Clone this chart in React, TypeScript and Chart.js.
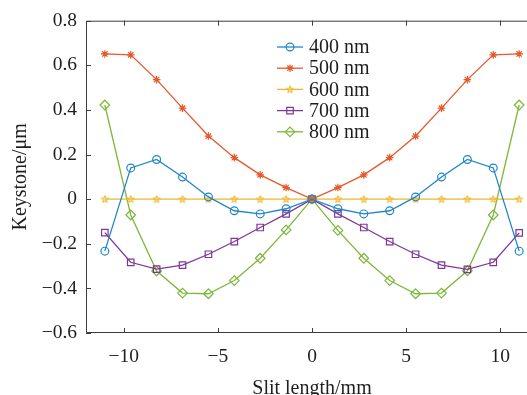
import React, { useEffect, useRef } from 'react';
import { Chart, registerables } from 'chart.js';

Chart.register(...registerables);

const slitPositions = [-11, -9.625, -8.25, -6.875, -5.5, -4.125, -2.75, -1.375, 0, 1.375, 2.75, 4.125, 5.5, 6.875, 8.25, 9.625, 11];
const seriesLabels = ['400 nm', '500 nm', '600 nm', '700 nm', '800 nm'];
const keystone400 = [-0.233, 0.14, 0.178, 0.099, 0.01, -0.052, -0.066, -0.043, 0, -0.043, -0.066, -0.052, 0.01, 0.099, 0.178, 0.14, -0.233];
const keystone500 = [0.651, 0.647, 0.536, 0.408, 0.283, 0.186, 0.109, 0.052, 0, 0.052, 0.109, 0.186, 0.283, 0.408, 0.536, 0.647, 0.651];
const keystone600 = [0, 0, 0, 0, 0, 0, 0, 0, 0, 0, 0, 0, 0, 0, 0, 0, 0];
const keystone700 = [-0.15, -0.283, -0.314, -0.296, -0.247, -0.19, -0.127, -0.066, 0, -0.066, -0.127, -0.19, -0.247, -0.296, -0.315, -0.283, -0.151];
const keystone800 = [0.422, -0.071, -0.322, -0.421, -0.424, -0.365, -0.265, -0.138, 0, -0.14, -0.265, -0.365, -0.424, -0.421, -0.321, -0.071, 0.422];
const xTicks = [-10, -5, 0, 5, 10];
const yTicks = [-0.6, -0.4, -0.2, 0, 0.2, 0.4, 0.6, 0.8];
const seriesColors = ['#1f87c9', '#e8582a', '#efb72c', '#7f3797', '#7cb83a'];

const FONT = "'Liberation Serif', 'Times New Roman', serif";

function makePentagram(color: string): HTMLCanvasElement {
  const c = document.createElement('canvas');
  c.width = 10;
  c.height = 10;
  const g = c.getContext('2d')!;
  const cx = 5, cy = 5.3, ro = 3.8, ri = 1.6;
  g.beginPath();
  for (let i = 0; i < 10; i++) {
    const r = i % 2 === 0 ? ro : ri;
    const a = -Math.PI / 2 + (i * Math.PI) / 5;
    const px = cx + r * Math.cos(a);
    const py = cy + r * Math.sin(a);
    if (i === 0) g.moveTo(px, py); else g.lineTo(px, py);
  }
  g.closePath();
  g.fillStyle = 'rgba(245, 200, 90, 0.5)';
  g.fill();
  g.strokeStyle = color;
  g.lineWidth = 1;
  g.stroke();
  return c;
}

export default function App() {
  const ref = useRef<HTMLCanvasElement | null>(null);

  useEffect(() => {
    if (!ref.current) return;
    const star = makePentagram(seriesColors[2]);
    const values = [keystone400, keystone500, keystone600, keystone700, keystone800];
    const styles: any[] = ['circle', 'star', star, 'rect', 'rectRot'];
    const radii = [3.9, 3.8, 4, 4.6, 4.8];

    const datasets = values.map((vals, i) => ({
      label: seriesLabels[i],
      data: slitPositions.map((x, j) => ({ x, y: vals[j] })),
      borderColor: seriesColors[i],
      backgroundColor: seriesColors[i],
      borderWidth: 1.3,
      pointStyle: styles[i],
      pointRadius: radii[i],
      pointBorderWidth: 1.2,
      pointBorderColor: seriesColors[i],
      pointBackgroundColor: 'rgba(0,0,0,0)',
      tension: 0,
    }));

    const framePlugin = {
      id: 'matlabFrame',
      afterDatasetsDraw(chart: any) {
        const { ctx, chartArea } = chart;
        const { left, right, top, bottom } = chartArea;
        const xs = chart.scales.x;
        const ys = chart.scales.y;
        ctx.save();
        ctx.strokeStyle = '#3c3c3c';
        ctx.lineWidth = 1;
        ctx.beginPath();
        ctx.rect(left + 0.5, top + 0.5, right - left - 1, bottom - top - 1);
        ctx.stroke();
        const tl = 5;
        ctx.beginPath();
        xTicks.forEach((v) => {
          const px = Math.round(xs.getPixelForValue(v)) + 0.5;
          ctx.moveTo(px, bottom);
          ctx.lineTo(px, bottom - tl);
          ctx.moveTo(px, top);
          ctx.lineTo(px, top + tl);
        });
        yTicks.forEach((v) => {
          const py = Math.round(ys.getPixelForValue(v)) + 0.5;
          ctx.moveTo(left, py);
          ctx.lineTo(left + tl, py);
          ctx.moveTo(right, py);
          ctx.lineTo(right - tl, py);
        });
        ctx.stroke();

        // legend (MATLAB style, no box)
        const lx0 = 277, lx1 = 303, tx = 309, ly0 = 47, dy = 21.2;
        chart.data.datasets.forEach((ds: any, i: number) => {
          const yy = ly0 + i * dy;
          ctx.strokeStyle = ds.borderColor;
          ctx.lineWidth = ds.borderWidth;
          ctx.beginPath();
          ctx.moveTo(lx0, yy);
          ctx.lineTo(lx1, yy);
          ctx.stroke();
          const meta = chart.getDatasetMeta(i);
          const el = meta.data[0];
          if (el) {
            const cx = (lx0 + lx1) / 2;
            const ox = el.x, oy = el.y;
            el.x = cx; el.y = yy;
            el.draw(ctx, chart.chartArea);
            el.x = ox; el.y = oy;
          }
          ctx.fillStyle = '#1e1e1e';
          ctx.font = `20px ${FONT}`;
          ctx.textBaseline = 'middle';
          ctx.textAlign = 'left';
          ctx.fillText(ds.label, tx, yy + 1);
        });
        ctx.restore();
      },
    };

    const chart = new Chart(ref.current, {
      type: 'line',
      data: { datasets },
      options: {
        animation: false,
        responsive: false,
        devicePixelRatio: 1,
        layout: { padding: { left: 0, top: 16, right: 22, bottom: 0 } },
        plugins: { legend: { display: false }, tooltip: { enabled: false } },
        scales: {
          x: {
            type: 'linear',
            min: -12,
            max: 12,
            grid: { display: false, drawTicks: false },
            border: { display: false },
            afterBuildTicks: (s: any) => { s.ticks = xTicks.map((v) => ({ value: v })); },
            afterFit: (s: any) => { s.height = 77; },
            ticks: {
              padding: 12,
              color: '#1e1e1e',
              font: { family: FONT, size: 19.5 },
              maxRotation: 0,
              callback: (v: any) => (v < 0 ? '\u2212' + Math.abs(v) : String(v)),
            },
            title: {
              display: true,
              text: 'Slit length/mm',
              color: '#1e1e1e',
              font: { family: FONT, size: 20 },
              padding: { top: 0, bottom: 9 },
            },
          },
          y: {
            type: 'linear',
            min: -0.6,
            max: 0.8,
            grid: { display: false, drawTicks: false },
            border: { display: false },
            afterBuildTicks: (s: any) => { s.ticks = yTicks.map((v) => ({ value: v })); },
            afterFit: (s: any) => { s.width = 86; },
            ticks: {
              padding: 9,
              color: '#1e1e1e',
              font: { family: FONT, size: 19.5 },
              callback: (v: any) => {
                const n = Number(v);
                if (Math.abs(n) < 1e-9) return '0';
                const s = Math.abs(n).toFixed(1);
                return n < 0 ? '\u2212' + s : s;
              },
            },
            title: {
              display: true,
              text: 'Keystone/\u03bcm',
              color: '#1e1e1e',
              font: { family: FONT, size: 20 },
              padding: { top: 9, bottom: 0 },
            },
          },
        },
      },
      plugins: [framePlugin],
    });
    return () => chart.destroy();
  }, []);

  return (
    <div style={{ position: 'fixed', left: 0, top: 0, width: 527, height: 395, overflow: 'hidden', background: '#fff' }}>
      <canvas ref={ref} width={560} height={410} style={{ width: 560, height: 410, display: 'block' }} />
    </div>
  );
}
